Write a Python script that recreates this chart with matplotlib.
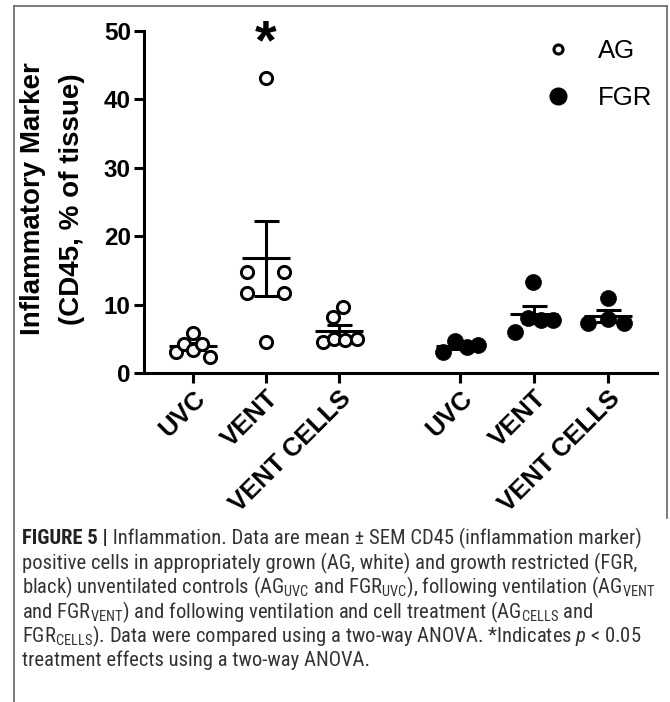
import numpy as np
import matplotlib.pyplot as plt
from matplotlib.lines import Line2D
from matplotlib import font_manager

plt.rcParams['font.family'] = ['Liberation Sans', 'DejaVu Sans']

# look for a condensed face for the caption
cap_font, cap_stretch = 'Liberation Sans', 'normal'
prefer = ['Liberation Sans Narrow', 'Roboto Condensed', 'Noto Sans', 'Open Sans',
          'Noto Sans Condensed', 'DejaVu Sans Condensed', 'Roboto', 'Lato', 'Inter']
found = {}
for f in font_manager.fontManager.ttflist:
    narrow = ('Narrow' in f.name or 'Condensed' in f.name
              or f.stretch in ('condensed', 'semi-condensed'))
    if narrow and f.style == 'normal' and 'CJK' not in f.name:
        found.setdefault(f.name, set()).add(f.stretch)
for n in prefer:
    if n in found:
        cap_font = n
        st = found[n]
        cap_stretch = 'condensed' if 'condensed' in st else sorted(st)[0]
        break

plt.rcParams['mathtext.fontset'] = 'custom'
plt.rcParams['mathtext.rm'] = f'{cap_font}:stretch={cap_stretch}'
plt.rcParams['mathtext.it'] = f'{cap_font}:italic:stretch={cap_stretch}'
plt.rcParams['mathtext.bf'] = f'{cap_font}:bold:stretch={cap_stretch}'

# data
groups = ["UVC", "VENT", "VENT CELLS"]

ag_uvc = [3.1, 4.3, 5.9, 3.4, 4.2, 2.4]
ag_vent = [43.2, 14.7, 14.7, 11.65, 11.65, 4.6]
ag_cells = [9.7, 8.2, 4.6, 4.9, 4.8, 4.9]

fgr_uvc = [3.0, 4.7, 3.8, 4.1]
fgr_vent = [13.3, 6.0, 8.0, 7.75, 7.75]
fgr_cells = [10.9, 7.3, 7.9, 7.3]

# horizontal scatter of the dots inside each column
ag_uvc_dx = [-0.23, -0.12, 0.0, 0.0, 0.12, 0.23]
ag_vent_dx = [0.0, -0.26, 0.24, -0.26, 0.24, 0.0]
ag_cells_dx = [0.06, -0.08, -0.22, -0.07, 0.08, 0.24]
fgr_uvc_dx = [-0.24, -0.07, 0.09, 0.24]
fgr_vent_dx = [-0.01, -0.26, -0.08, 0.1, 0.26]
fgr_cells_dx = [0.0, -0.27, 0.0, 0.23]

x_ag = [0, 1, 2]
x_fgr = [3.66, 4.67, 5.68]

fig = plt.figure(figsize=(6.7, 7.02), dpi=100)
ax = fig.add_axes([144/670, 1-373/702, (657-144)/670, (373-31)/702])

lw = 2.2

def column(x, vals, dx, filled):
    vals = np.array(vals)
    m = vals.mean()
    sem = vals.std(ddof=1) / np.sqrt(len(vals))
    ax.hlines(m, x-0.33, x+0.33, color='black', lw=lw, zorder=2)
    ax.errorbar(x, m, yerr=sem, fmt='none', ecolor='black', elinewidth=lw,
                capsize=9, capthick=lw, zorder=2)
    if filled:
        ax.plot(x + np.array(dx), vals, 'o', ms=11.5, mfc='black', mec='black',
                mew=0.5, ls='none', zorder=3)
    else:
        ax.plot(x + np.array(dx), vals, 'o', ms=8.8, mfc='#f8f8f8', mec='black',
                mew=2.1, ls='none', zorder=3)

for x, v, d in zip(x_ag, [ag_uvc, ag_vent, ag_cells], [ag_uvc_dx, ag_vent_dx, ag_cells_dx]):
    column(x, v, d, False)
for x, v, d in zip(x_fgr, [fgr_uvc, fgr_vent, fgr_cells], [fgr_uvc_dx, fgr_vent_dx, fgr_cells_dx]):
    column(x, v, d, True)

ax.set_xlim(-0.671, 6.356)
ax.set_ylim(0, 50)
ax.set_yticks([0, 10, 20, 30, 40, 50])
ax.set_xticks(x_ag + x_fgr)
ax.set_xticklabels(groups + groups, rotation=45, ha='right', rotation_mode='anchor')
for s in ['top', 'right']:
    ax.spines[s].set_visible(False)
for s in ['left', 'bottom']:
    ax.spines[s].set_linewidth(lw)
ax.tick_params(width=lw, length=7.5, labelsize=17.5, pad=2)
ax.tick_params(axis='x', labelsize=18.5)
for lbl in ax.get_xticklabels() + ax.get_yticklabels():
    lbl.set_fontweight('bold')

# significance star
ax.text(x_ag[1], 48.0, '*', fontsize=40, fontweight='bold', ha='center', va='center')

handles = [Line2D([], [], marker='o', ms=6.5, mew=2.2, mfc='white', mec='black', ls='none'),
           Line2D([], [], marker='o', ms=12, mfc='black', mec='black', ls='none')]
ax.legend(handles, ['AG', 'FGR'], loc='upper left', bbox_to_anchor=(545/670, 1-39/702),
          bbox_transform=fig.transFigure, frameon=False, fontsize=18.5, borderpad=0,
          borderaxespad=0, handlelength=1.0, handletextpad=1.05, labelspacing=0.9)

fig.text(33/670, 1-199/702, 'Inflammatory Marker', rotation=90, ha='center', va='center',
         fontsize=20, fontweight='bold')
fig.text(72/670, 1-199/702, '(CD45, % of tissue)', rotation=90, ha='center', va='center',
         fontsize=20, fontweight='bold')

# frame
fc = '#666666'
fig.add_artist(Line2D([14/670, 14/670], [0, 1-6/702], transform=fig.transFigure, color=fc, lw=1.2))
fig.add_artist(Line2D([14/670, 667/670], [1-6/702, 1-6/702], transform=fig.transFigure, color=fc, lw=1.2))
fig.add_artist(Line2D([667/670, 667/670], [1-6/702, 1-518/702], transform=fig.transFigure, color=fc, lw=1.2))

# caption
cap_lines = [
    " Inflammation. Data are mean \u00b1 SEM CD45 (inflammation marker)",
    "positive cells in appropriately grown (AG, white) and growth restricted (FGR,",
    r"black) unventilated controls (AG$_{\mathrm{UVC}}$ and FGR$_{\mathrm{UVC}}$), following ventilation (AG$_{\mathrm{VENT}}$",
    r"and FGR$_{\mathrm{VENT}}$) and following ventilation and cell treatment (AG$_{\mathrm{CELLS}}$ and",
    r"FGR$_{\mathrm{CELLS}}$). Data were compared using a two-way ANOVA. *Indicates $p$ < 0.05",
    "treatment effects using a two-way ANOVA.",
]
baselines = [544, 569, 593, 618, 642, 666]
cap_x = 22
cap_color = '#333333'
cap_kw = dict(family=cap_font, stretch=cap_stretch, color=cap_color, va='baseline')

renderer = fig.canvas.get_renderer()
size0 = 12
t_bold = fig.text(cap_x/670, 1-baselines[0]/702, 'FIGURE 5 |', fontsize=size0,
                  fontweight='bold', family=cap_font, stretch=cap_stretch,
                  color='#222222', va='baseline')
widths = []
for i, line in enumerate(cap_lines):
    t = fig.text(0, 0, line, fontsize=size0, **cap_kw)
    wd = t.get_window_extent(renderer).width
    if i == 0:
        wd += t_bold.get_window_extent(renderer).width
    widths.append(wd)
    t.remove()
size = size0 * 632 / max(widths)
t_bold.set_fontsize(size)
wb = t_bold.get_window_extent(renderer).width
fig.text((cap_x + wb)/670, 1-baselines[0]/702, cap_lines[0], fontsize=size, **cap_kw)
for line, b in zip(cap_lines[1:], baselines[1:]):
    fig.text(cap_x/670, 1-b/702, line, fontsize=size, **cap_kw)

fig.savefig('out.png', dpi=100)
